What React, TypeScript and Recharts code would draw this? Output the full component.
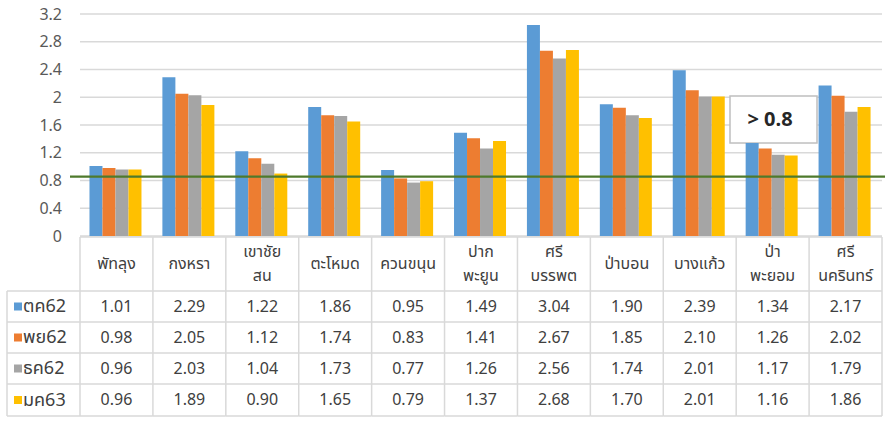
import React from 'react';
import { BarChart, Bar, XAxis, YAxis, CartesianGrid, ReferenceLine, Customized } from 'recharts';

const categories = ['พัทลุง', 'กงหรา', 'เขาชัย\nสน', 'ตะโหมด', 'ควนขนุน', 'ปาก\nพะยูน', 'ศรี\nบรรพต', 'ป่าบอน', 'บางแก้ว', 'ป่า\nพะยอม', 'ศรี\nนครินทร์'];
const seriesNames = ['ตค62', 'พย62', 'ธค62', 'มค63'];
const oct62 = [1.01, 2.29, 1.22, 1.86, 0.95, 1.49, 3.04, 1.90, 2.39, 1.34, 2.17];
const nov62 = [0.98, 2.05, 1.12, 1.74, 0.83, 1.41, 2.67, 1.85, 2.10, 1.26, 2.02];
const dec62 = [0.96, 2.03, 1.04, 1.73, 0.77, 1.26, 2.56, 1.74, 2.01, 1.17, 1.79];
const jan63 = [0.96, 1.89, 0.90, 1.65, 0.79, 1.37, 2.68, 1.70, 2.01, 1.16, 1.86];
const yTicks = [0, 0.4, 0.8, 1.2, 1.6, 2, 2.4, 2.8, 3.2];
const thresholdLevel = 0.855;
const thresholdLabel = '> 0.8';

const seriesValues = [oct62, nov62, dec62, jan63];
const colors = ['#5B9BD5', '#ED7D31', '#A5A5A5', '#FFC000'];
const keys = ['s0', 's1', 's2', 's3'];

const data = categories.map((c, i) => {
  const row: any = { name: c };
  keys.forEach((k, j) => { row[k] = seriesValues[j][i]; });
  return row;
});

const FONT = "Tahoma, 'Leelawadee UI', 'Noto Sans Thai', 'Noto Sans', 'Liberation Sans', sans-serif";
const TEXT = '#404040';
const BORDER = '#d9d9d9';
const PLOT_LEFT = 80;
const PLOT_RIGHT = 882;
const BAND = (PLOT_RIGHT - PLOT_LEFT) / categories.length;
const ROWS = [0, 54, 85, 116, 147, 179];
const LEGEND_LEFT = 7;

const TableTick = (props: any) => {
  const { x, y, payload } = props;
  const idx = payload.index;
  const left = x - BAND / 2;
  const right = x + BAND / 2;
  const top = y;
  const lines = String(payload.value).split('\n');
  const headerY = lines.length === 1 ? [top + 27] : [top + 15, top + 39];
  const els: any[] = [];
  lines.forEach((ln, k) => {
    els.push(
      <text key={'h' + k} x={x} y={headerY[k]} textAnchor="middle" dominantBaseline="central" fontSize={16} fill={TEXT} fontFamily={FONT}>{ln}</text>
    );
  });
  seriesValues.forEach((arr, r) => {
    const cy = top + (ROWS[r + 1] + ROWS[r + 2]) / 2;
    els.push(
      <text key={'v' + r} x={x} y={cy} textAnchor="middle" dominantBaseline="central" fontSize={16} fill={TEXT} fontFamily={FONT}>{arr[idx].toFixed(2)}</text>
    );
  });
  ROWS.forEach((ry, r) => {
    els.push(<line key={'hl' + r} x1={left} x2={right} y1={top + ry} y2={top + ry} stroke={BORDER} strokeWidth={1.5} />);
  });
  els.push(<line key="vr" x1={right} x2={right} y1={top} y2={top + ROWS[5]} stroke={BORDER} strokeWidth={1.5} />);
  if (idx === 0) {
    els.push(<line key="vl" x1={left} x2={left} y1={top} y2={top + ROWS[5]} stroke={BORDER} strokeWidth={1.5} />);
    els.push(<line key="lv" x1={LEGEND_LEFT} x2={LEGEND_LEFT} y1={top + ROWS[1]} y2={top + ROWS[5]} stroke={BORDER} strokeWidth={1.5} />);
    for (let r = 1; r < ROWS.length; r++) {
      els.push(<line key={'lh' + r} x1={LEGEND_LEFT} x2={left} y1={top + ROWS[r]} y2={top + ROWS[r]} stroke={BORDER} strokeWidth={1.5} />);
    }
    seriesNames.forEach((nm, r) => {
      const cy = top + (ROWS[r + 1] + ROWS[r + 2]) / 2;
      els.push(<rect key={'ls' + r} x={14} y={cy - 4} width={8} height={8} fill={colors[r]} />);
      els.push(
        <text key={'lt' + r} x={23} y={cy} dominantBaseline="central" fontSize={18} fill={TEXT} fontFamily={FONT}>{nm}</text>
      );
    });
  }
  return <g>{els}</g>;
};

const ThresholdLine = (props: any) => {
  const { x1, y1, x2, y2 } = props;
  return <line x1={x1 - 10} x2={x2 + 3} y1={y1} y2={y2} stroke="#4E7A2C" strokeWidth={2.2} />;
};

const LabelBox = () => (
  <g>
    <rect x={730} y={96} width={87} height={47} fill="#ffffff" stroke="#bfbfbf" strokeWidth={1.5} />
    <text x={770} y={120} textAnchor="middle" dominantBaseline="central" fontSize={20} fontWeight="bold" fill="#262626" fontFamily={FONT}>{thresholdLabel}</text>
  </g>
);

export default function App() {
  return (
    <div style={{ position: 'absolute', left: 0, top: 0, width: 885, height: 426, background: '#ffffff' }}>
      <BarChart
        width={885}
        height={426}
        data={data}
        margin={{ top: 14, right: 3, left: 0, bottom: 0 }}
        barCategoryGap="13%"
        barGap={0}
        style={{ fontFamily: FONT }}
      >
        <CartesianGrid vertical={false} stroke="#d9d9d9" strokeWidth={1.5} />
        <YAxis
          width={80}
          domain={[0, 3.2]}
          ticks={yTicks}
          axisLine={false}
          tickLine={false}
          tickSize={0}
          tickMargin={18}
          interval={0}
          tick={{ fontSize: 16, fill: '#595959', fontFamily: FONT }}
          tickFormatter={(v: number) => String(v)}
        />
        <XAxis
          dataKey="name"
          height={190}
          axisLine={false}
          tickLine={false}
          tickSize={0}
          tickMargin={1}
          interval={0}
          tick={<TableTick />}
        />
        {keys.map((k, j) => (
          <Bar key={k} dataKey={k} name={seriesNames[j]} fill={colors[j]} isAnimationActive={false} />
        ))}
        <ReferenceLine y={thresholdLevel} shape={<ThresholdLine />} />
        <Customized component={LabelBox} />
      </BarChart>
    </div>
  );
}
